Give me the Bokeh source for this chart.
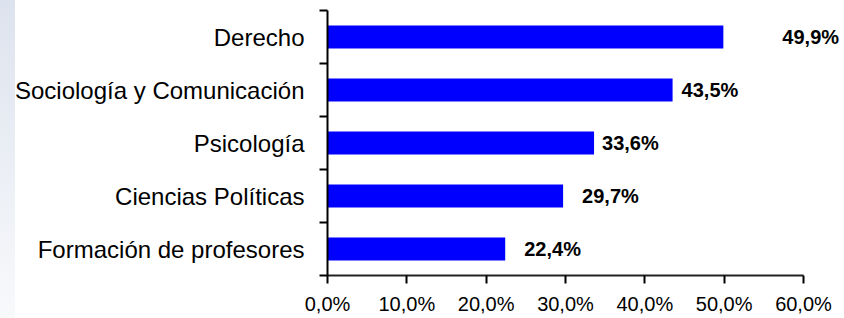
from bokeh.plotting import figure
from bokeh.models import Range1d, FixedTicker, ColumnDataSource
from bokeh.core.properties import value
from bokeh.embed import file_html
from bokeh.resources import INLINE

# ---- data (top to bottom as shown) ----
categories = ["Derecho", "Sociología y Comunicación", "Psicología",
              "Ciencias Políticas", "Formación de profesores"]
values = [49.9, 43.5, 33.6, 29.7, 22.4]
x_ticks = [0, 10, 20, 30, 40, 50, 60]
x_tick_labels = ["0,0%", "10,0%", "20,0%", "30,0%", "40,0%", "50,0%", "60,0%"]

# ---- styling ----
label_offsets = [59, 9, 8, 19, 19]   # screen px gap between bar end and value label
FONT = "Liberation Sans"
W, H = 844, 318

n = len(categories)
ys = [n - i - 0.5 for i in range(n)]          # category centres, first at top
labels = [f"{v:.1f}%".replace(".", ",") for v in values]

src = ColumnDataSource(dict(y=ys, v=values, lab=labels, off=label_offsets))

p = figure(width=W, height=H,
           x_range=Range1d(0, 65.17), y_range=Range1d(0, n),
           output_backend="svg", toolbar_location=None,
           min_border_left=327, min_border_right=0,
           min_border_top=10, min_border_bottom=43)
p.outline_line_color = None
p.xgrid.grid_line_color = None
p.ygrid.grid_line_color = None
p.background_fill_color = "white"
p.border_fill_color = None   # let the page's left gradient strip show through

p.hbar(y="y", right="v", left=0, height=0.43, source=src,
       fill_color="#0000FF", line_color=None)

p.text(x="v", y="y", text="lab", x_offset="off", source=src,
       text_baseline="middle", text_align="left",
       text_font=value(FONT), text_font_style="bold",
       text_font_size="20px", text_color="#000000")

# x axis
xa = p.xaxis[0]
xa.bounds = (0, 60)
xa.ticker = FixedTicker(ticks=x_ticks)
xa.major_label_overrides = {t: l for t, l in zip(x_ticks, x_tick_labels)}
xa.major_tick_out = 8
xa.major_tick_in = 0
xa.minor_tick_line_color = None
xa.axis_line_width = 2
xa.axis_line_color = "#222222"
xa.major_tick_line_width = 2
xa.major_tick_line_color = "#000000"
xa.major_label_text_font = FONT
xa.major_label_text_font_size = "20px"
xa.major_label_text_color = "#000000"
xa.major_label_standoff = 9

# y axis: category names at centres, tick marks at boundaries
ya = p.yaxis[0]
ya.ticker = FixedTicker(ticks=ys, minor_ticks=list(range(n + 1)))
ya.major_label_overrides = {y: c for y, c in zip(ys, categories)}
ya.major_tick_out = 0
ya.major_tick_in = 0
ya.minor_tick_out = 8
ya.minor_tick_in = 0
ya.minor_tick_line_width = 2
ya.minor_tick_line_color = "#000000"
ya.axis_line_width = 2
ya.axis_line_color = "#000000"
ya.major_label_text_font = FONT
ya.major_label_text_font_size = "24px"
ya.major_label_text_color = "#000000"
ya.major_label_standoff = 15

html = file_html(p, INLINE)
css = ("<style>html,body{height:100%;}"
       "body{background:linear-gradient(to bottom,#dde3ee,#f8f9fb) 0 0/15px 100% no-repeat,#ffffff;}"
       "</style>")
html = html.replace("</head>", css + "</head>", 1)
open("out.html", "w").write(html)
